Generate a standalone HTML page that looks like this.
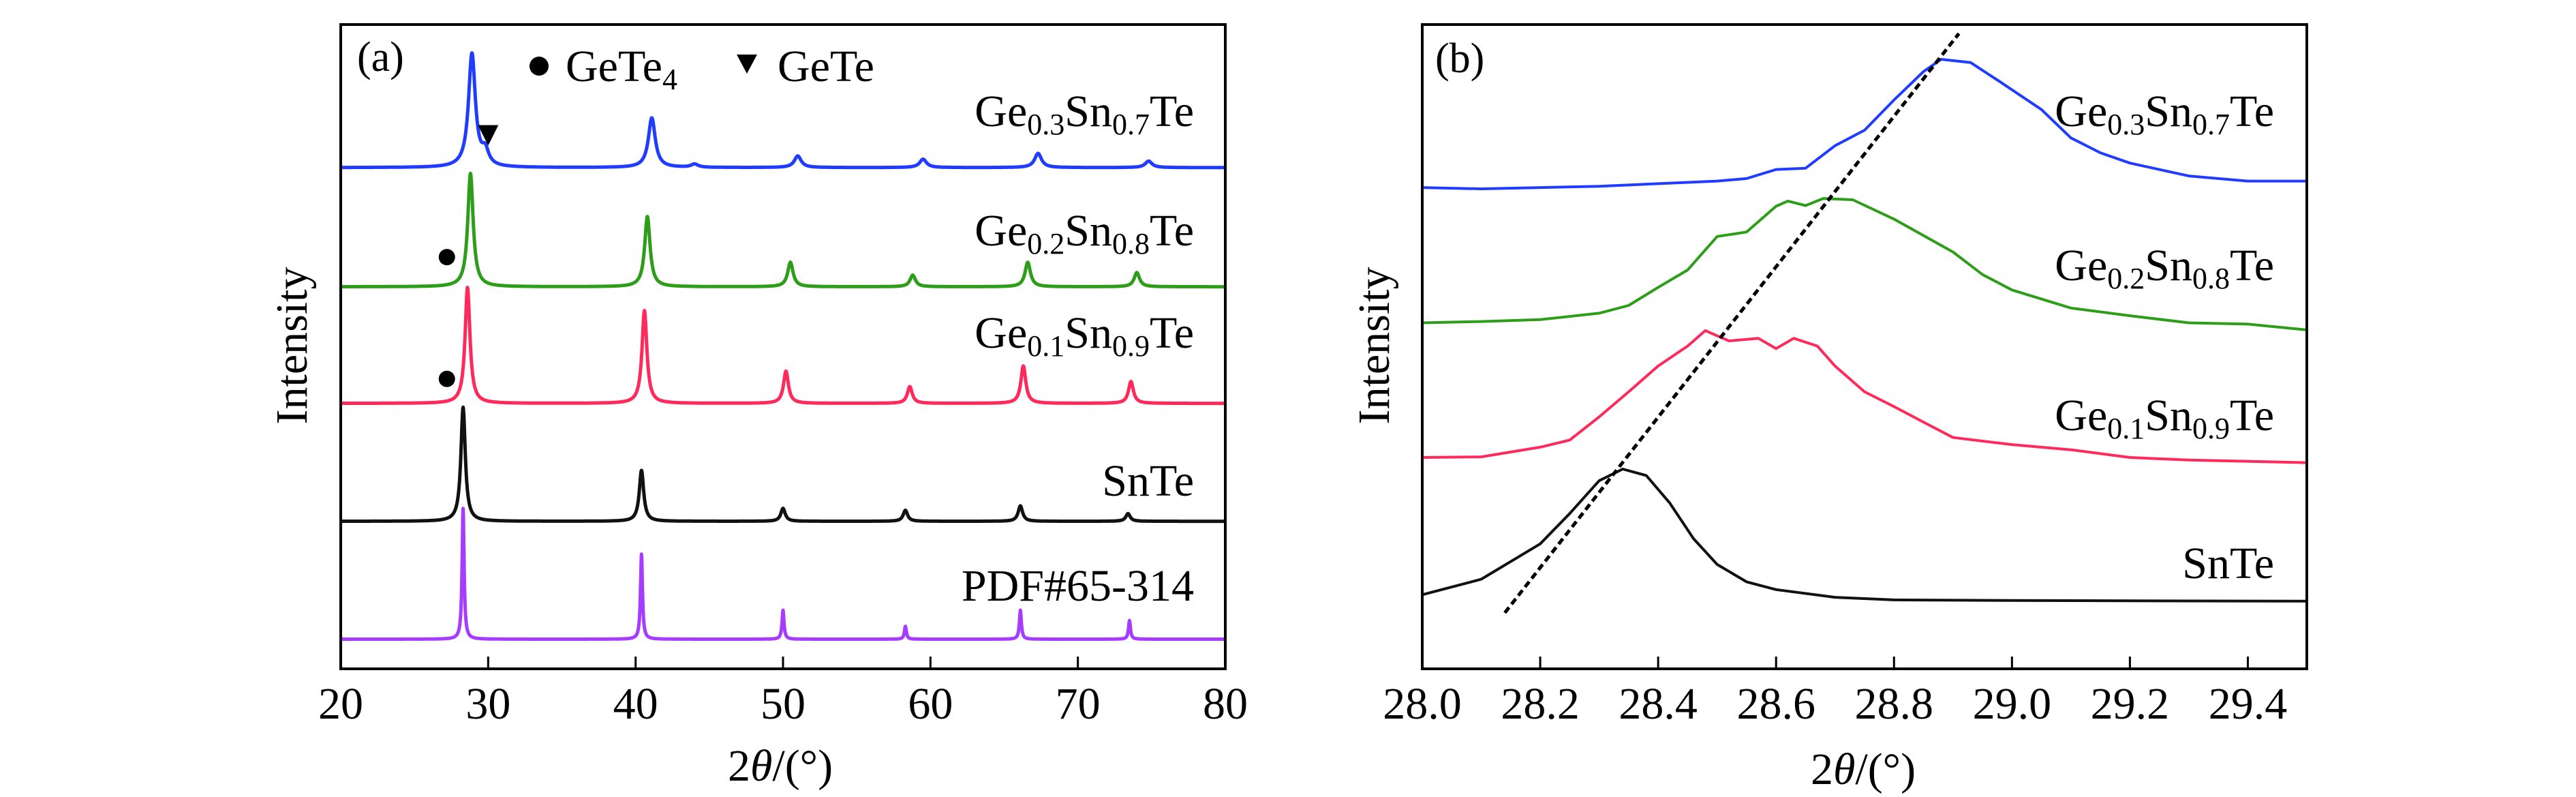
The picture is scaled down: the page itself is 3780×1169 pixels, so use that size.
<!DOCTYPE html>
<html><head><meta charset="utf-8"><style>
html,body{margin:0;padding:0;background:#fff;overflow:hidden;}
svg, svg text{font-family:"Liberation Serif","Times New Roman",serif;}
svg{display:block;}
</style></head><body>
<svg id="fig" width="3780" height="1169" viewBox="0 0 3780 1169" xmlns="http://www.w3.org/2000/svg" font-family="Liberation Serif, serif">
<rect width="3780" height="1169" fill="#fff"/>
<g id="pa"></g>
<g id="pb"></g>
</svg>
<script>
// ---------- Panel (a) data ----------
const aXTicks = [20,30,40,50,60,70,80];
const aNames = ["Ge0.3Sn0.7Te","Ge0.2Sn0.8Te","Ge0.1Sn0.9Te","SnTe","PDF#65-314"];
const aBaselines = [77.8, 59.3, 41.2, 22.9, 4.6];
const aPeakPos = [
  [28.9, 29.8, 41.1, 44.0, 51.0, 59.5, 67.3, 74.8],
  [28.8, 40.8, 50.5, 58.8, 66.6, 74.0],
  [28.6, 40.6, 50.2, 58.6, 66.3, 73.6],
  [28.3, 40.4, 50.0, 58.3, 66.1, 73.4],
  [28.3, 40.4, 50.0, 58.3, 66.1, 73.5]
];
const aPeakH = [
  [17.6, 2.2, 7.7, 0.5, 1.8, 1.3, 2.2, 1.0],
  [17.6, 10.9, 3.8, 1.8, 3.8, 2.2],
  [18.0, 14.4, 5.0, 2.6, 5.8, 3.4],
  [17.7, 7.9, 2.0, 1.7, 2.4, 1.2],
  [20.3, 13.2, 4.5, 2.0, 4.5, 2.9]
];
const aPeakW = [0.28, 0.22, 0.2, 0.18, 0.08];
const aGeTe4 = [[27.2, 45.0],[27.2, 63.9]];
const aGeTe = [[30.0, 82.8]];
// ---------- Panel (b) data ----------
const bXTicks = [28.0,28.2,28.4,28.6,28.8,29.0,29.2,29.4];
const bNames = ["Ge0.3Sn0.7Te","Ge0.2Sn0.8Te","Ge0.1Sn0.9Te","SnTe"];
const bX = [
  [28.0,28.1,28.2,28.3,28.4,28.5,28.55,28.6,28.65,28.7,28.75,28.8,28.85,28.88,28.93,28.98,29.05,29.1,29.15,29.2,29.3,29.4,29.5],
  [28.0,28.1,28.2,28.3,28.35,28.4,28.45,28.5,28.55,28.6,28.62,28.65,28.68,28.73,28.8,28.9,28.95,29.0,29.1,29.2,29.3,29.4,29.5],
  [28.0,28.1,28.2,28.25,28.3,28.35,28.4,28.45,28.48,28.52,28.57,28.6,28.63,28.67,28.7,28.75,28.8,28.85,28.9,29.0,29.1,29.2,29.3,29.5],
  [28.0,28.1,28.2,28.25,28.3,28.34,28.38,28.42,28.46,28.5,28.55,28.6,28.7,28.8,29.0,29.5]
];
const bY = [
  [74.7,74.5,74.7,74.9,75.3,75.7,76.1,77.5,77.7,81.2,83.6,88.3,92.7,94.6,94.1,91.1,86.8,82.4,80.1,78.5,76.5,75.7,75.7],
  [53.7,53.9,54.2,55.2,56.4,59.2,61.9,67.1,67.8,71.8,72.6,71.9,73.0,72.8,69.8,64.7,61.2,58.8,56.0,54.8,53.7,53.5,52.6],
  [32.8,32.9,34.4,35.5,39.1,43.0,47.0,50.1,52.5,50.9,51.3,49.7,51.3,50.1,47.0,43.0,40.7,38.3,35.9,34.8,34.0,32.8,32.4,32.0],
  [11.5,13.9,19.4,24.1,29.2,31.0,30.0,25.7,20.2,16.2,13.5,12.3,11.1,10.7,10.6,10.5]
];
const bGuideX = [28.14, 28.91];
const bGuideY = [8.7, 98.6];

const colors = ["#1f3cff","#2e9e1a","#ff2a5c","#111","#a53cff"];
const NS = "http://www.w3.org/2000/svg";
const FF = "Liberation Serif, Times New Roman, serif";
function mk(parent, tag, attrs, text){
  const e = document.createElementNS(NS, tag);
  for (const k in attrs) e.setAttribute(k, attrs[k]);
  if (tag === "text") e.setAttribute("font-family", FF);
  if (text !== undefined) e.textContent = text;
  parent.appendChild(e);
  return e;
}
const TOP = 36, BOT = 981;
const FS = 66, SUB = 44, SDY = 12;
const yPix = v => BOT - v * (BOT - TOP) / 100;

function formula(parent, name, xr, y, nm){
  const t = mk(parent, "text", {x: xr, y: y, "text-anchor": "end", "font-size": FS});
  
  
  const m = name.match(/^Ge([\d.]+)Sn([\d.]+)Te$/);
  if (!m) { t.textContent = name; return; }
  mk(t, "tspan", {}, "Ge");
  mk(t, "tspan", {"font-size": SUB, dy: SDY}, m[1]);
  mk(t, "tspan", {dy: -SDY}, "Sn");
  mk(t, "tspan", {"font-size": SUB, dy: SDY}, m[2]);
  mk(t, "tspan", {dy: -SDY}, "Te");
}

function axes(g, L, R, ticks, xf, fmt, pname){
  const fr = mk(g, "rect", {x: L, y: TOP, width: R - L, height: BOT - TOP, fill: "none", stroke: "#000", "stroke-width": 4});
  
  
  ticks.forEach(t => {
    const x = xf(t);
    const tk = mk(g, "line", {x1: x, x2: x, y1: BOT, y2: BOT - 18, stroke: "#000", "stroke-width": 3});
    
    
    const lb = mk(g, "text", {x: x, y: 1054, "text-anchor": "middle", "font-size": FS}, fmt(t));
    
    
  });
}

// ---------- Panel a ----------
(function(){
  const g = document.getElementById("pa");
  const L = 500, R = 1798;
  const xf = x => L + (x - 20) * (R - L) / 60;
  aNames.forEach((nm, i) => {
    let d = "";
    for (let x = 20; x <= 80.0001; x += 0.02) {
      let v = aBaselines[i];
      aPeakPos[i].forEach((c, j) => {
        const u = (x - c) / aPeakW[i];
        v += aPeakH[i][j] / (1 + u * u);
      });
      d += (d ? "L" : "M") + xf(x).toFixed(1) + " " + yPix(v).toFixed(1);
    }
    const p = mk(g, "path", {d: d, fill: "none", stroke: colors[i], "stroke-width": 5, "stroke-linejoin": "round"});
    
    
  });
  aGeTe4.forEach(m => {
    const c = mk(g, "circle", {cx: xf(m[0]), cy: yPix(m[1]), r: 12, fill: "#000"});
    
    
  });
  aGeTe.forEach(m => {
    const x = xf(m[0]), y = yPix(m[1]);
    const t = mk(g, "polygon", {points: `${x-15},${y-15} ${x+15},${y-15} ${x},${y+15}`, fill: "#000"});
    
    
  });
  axes(g, L, R, aXTicks, xf, t => String(t), "panel-a");
  const labY = [185, 360, 510, 727, 881];
  aNames.forEach((nm, i) => formula(g, nm, 1752, labY[i], 'label-' + i));
  const pl = mk(g, "text", {x: 524, y: 104, "font-size": 62}, "(a)");
  
  
  // legend
  const lc = mk(g, "circle", {cx: 791, cy: 97, r: 14, fill: "#000"});
  
  
  const lt = mk(g, "text", {x: 830, y: 119, "font-size": FS});
  
  
  mk(lt, "tspan", {}, "GeTe");
  mk(lt, "tspan", {"font-size": SUB, dy: SDY}, "4");
  const tri = mk(g, "polygon", {points: "1081,80 1111,80 1096,108", fill: "#000"});
  
  
  const lt2 = mk(g, "text", {x: 1141, y: 119, "font-size": FS}, "GeTe");
  
  
  const yl = mk(g, "text", {x: 0, y: 0, "font-size": FS, "text-anchor": "middle", transform: "translate(450,507) rotate(-90)"}, "Intensity");
  
  
  const xl = mk(g, "text", {x: 1145, y: 1145, "font-size": FS, "text-anchor": "middle"});
  
  
  mk(xl, "tspan", {}, "2");
  mk(xl, "tspan", {"font-style": "italic"}, "θ");
  mk(xl, "tspan", {}, "/(°)");
})();

// ---------- Panel b ----------
(function(){
  const g = document.getElementById("pb");
  const L = 2087, R = 3385;
  const xf = x => L + (x - 28) * (R - L) / 1.5;
  bNames.forEach((nm, i) => {
    let d = "";
    bX[i].forEach((x, j) => { d += (j ? "L" : "M") + xf(x).toFixed(1) + " " + yPix(bY[i][j]).toFixed(1); });
    const p = mk(g, "path", {d: d, fill: "none", stroke: colors[i], "stroke-width": 4, "stroke-linejoin": "round"});
    
    
  });
  const gl = mk(g, "line", {x1: xf(bGuideX[0]), y1: yPix(bGuideY[0]), x2: xf(bGuideX[1]), y2: yPix(bGuideY[1]), stroke: "#000", "stroke-width": 5, "stroke-dasharray": "10 6"});
  
  
  axes(g, L, R, bXTicks, xf, t => t.toFixed(1), "panel-b");
  const labY = [185, 411, 631, 848];
  bNames.forEach((nm, i) => formula(g, nm, 3337, labY[i], 'b-label-' + i));
  const pl = mk(g, "text", {x: 2106, y: 106, "font-size": 62}, "(b)");
  
  
  const yl = mk(g, "text", {x: 0, y: 0, "font-size": FS, "text-anchor": "middle", transform: "translate(2038,507) rotate(-90)"}, "Intensity");
  
  
  const xl = mk(g, "text", {x: 2734, y: 1150, "font-size": FS, "text-anchor": "middle"});
  
  
  mk(xl, "tspan", {}, "2");
  mk(xl, "tspan", {"font-style": "italic"}, "θ");
  mk(xl, "tspan", {}, "/(°)");
})();
</script>
</body></html>
